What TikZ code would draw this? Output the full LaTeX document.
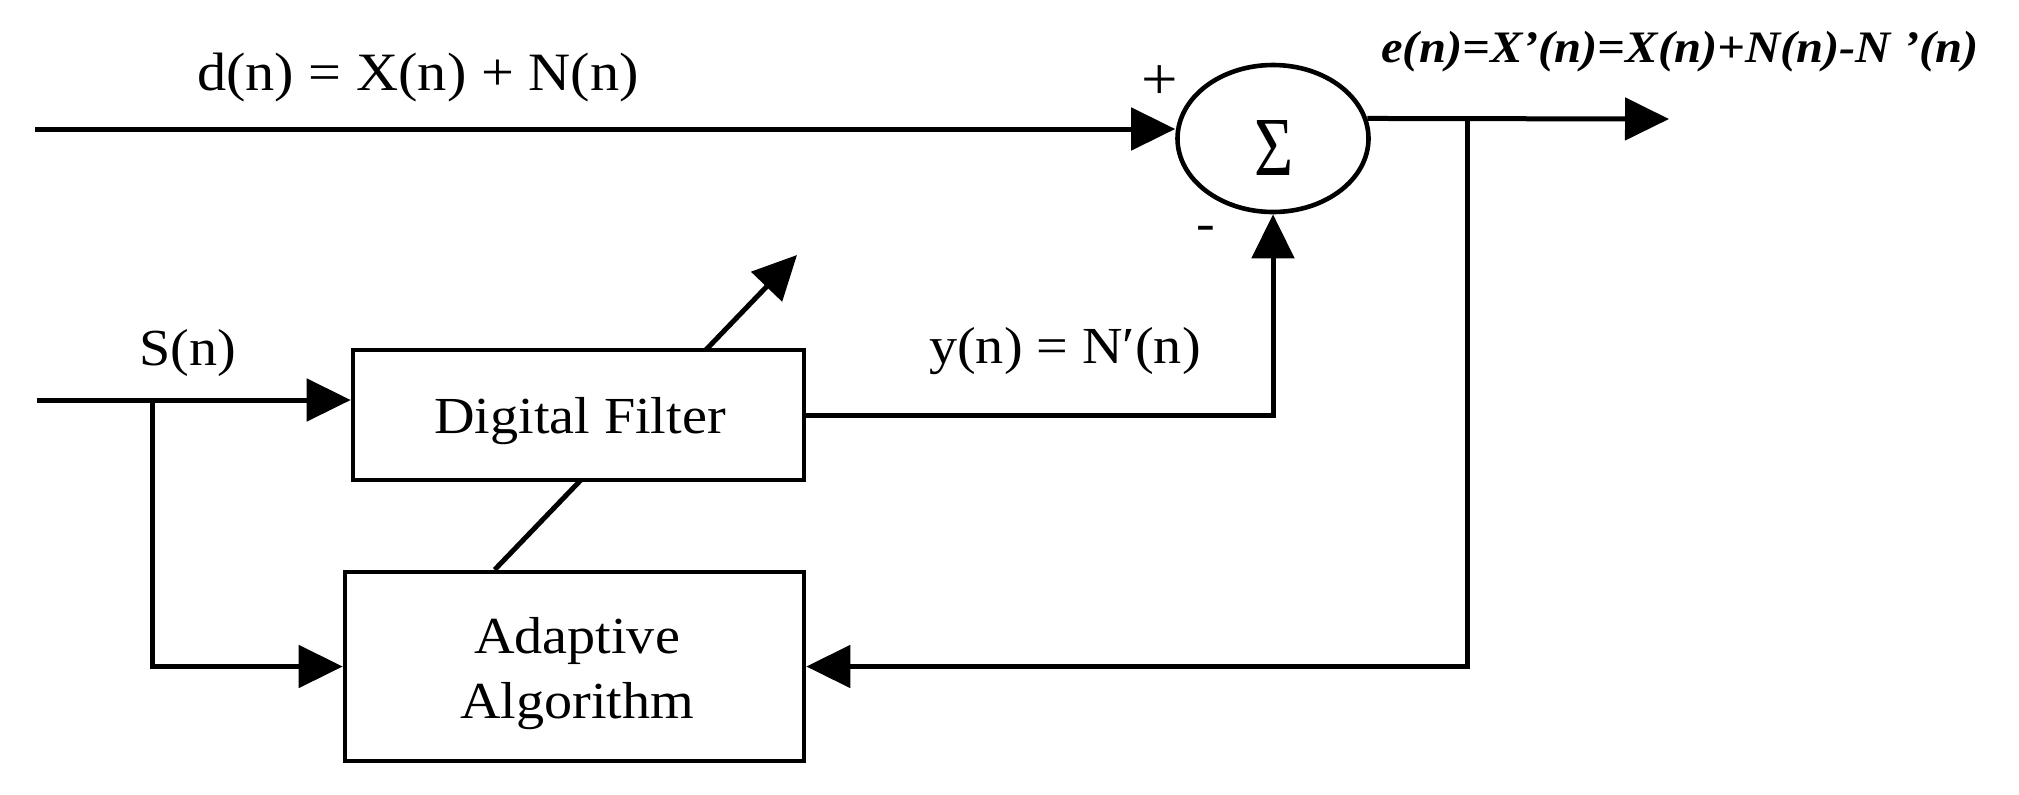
\documentclass[tikz,border=0pt]{standalone}
\usepackage{fontspec}
\setmainfont{Liberation Serif}[FakeStretch=1.08]
\newfontfamily\sigfont{Liberation Serif}[FakeStretch=0.8]
\usetikzlibrary{arrows.meta,shapes.geometric,calc,backgrounds}
\tikzset{
  wire/.style={line width=2.5pt},
  arr/.style={line width=2.5pt, -{Triangle[length=22pt,width=21pt]}},
  blk/.style={draw, line width=2.3pt, fill=white, inner sep=0pt, align=center,
    font=\fontsize{26}{32}\selectfont},
  lbl/.style={inner sep=0pt, anchor=base, font=\fontsize{26}{31}\selectfont},
}
\begin{document}
\begin{tikzpicture}[x=0.5pt,y=-0.5pt]
\useasboundingbox (0,0) rectangle (2019,794);

% nodes
\node[blk, ellipse, minimum width=95.5pt, minimum height=73.5pt] (sum) at (1273,138.5) {};
\node[inner sep=0pt, anchor=base] (sig) at (1274,175) {\sigfont\fontsize{42}{42}\selectfont Σ};
\node[blk, minimum width=225.5pt, minimum height=65pt] (filt) at (578.5,415) {};
\node[lbl] (filttxt) at (580,433) {Digital Filter};
\node[blk, minimum width=229.5pt, minimum height=94.5pt] (adapt) at (574.5,666.5) {};
\node[lbl] (adtxt1) at (577,653) {Adaptive};
\node[lbl] (adtxt2) at (577,718) {Algorithm};

% labels
\node[lbl, font=\fontsize{27}{32}\selectfont] (dlab) at (418,90) {d(n) = X(n) + N(n)};
\node[lbl] (slab) at (188,365) {S(n)};
\node[lbl] (ylab) at (1065,363) {y(n) = N′(n)};
\node[lbl, font=\fontsize{22.5}{26}\selectfont\bfseries\itshape] (elab) at (1680,62) {e(n)=X’(n)=X(n)+N(n)-N ’(n)};
\node[lbl, font=\fontsize{30}{34}\selectfont] (plus) at (1160,99) {+};
\node[lbl, font=\fontsize{26}{30}\selectfont] (minus) at (1206,240) {-};

% coordinates
\coordinate (din) at (35,129);
\coordinate (eout) at (1669,119);
\coordinate (fb) at (1467,119);
\coordinate (sin) at (37,400);
\coordinate (br) at (152,400);
\coordinate (dtip) at (797,255);

% connectors
\draw[arr] (din) -- (din -| sum.west);
\draw[arr] (sum.12) -- (eout);
\draw[arr] (fb) |- (adapt.east);
\draw[arr] (sin) -- (sin -| filt.west);
\draw[arr] (br) |- (adapt.west);
\draw[arr] (filt.east) -| (sum.south);
\begin{scope}[on background layer]
\draw[arr] ($(adapt.north west)+(152,0)$) -- (dtip);
\end{scope}
\end{tikzpicture}
\end{document}
